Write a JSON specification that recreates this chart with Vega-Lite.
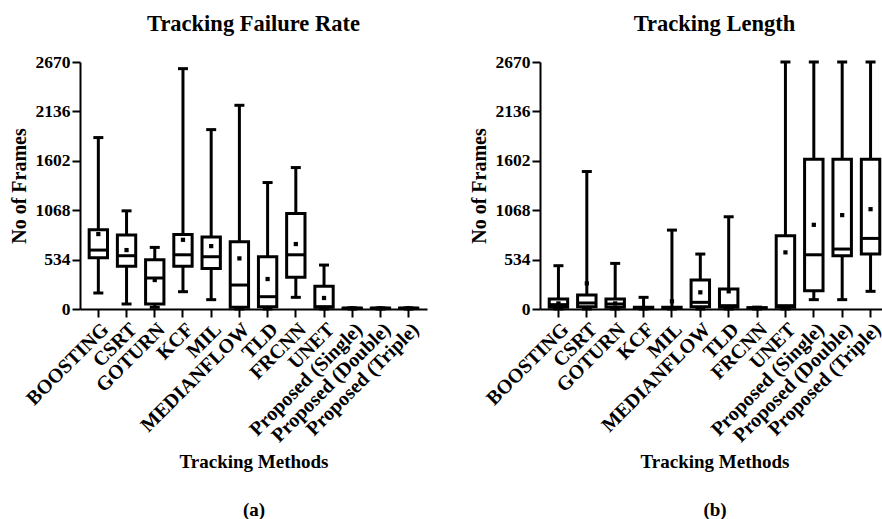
{
  "$schema": "https://vega.github.io/schema/vega-lite/v6.json",
  "padding": {"left": 9, "top": 12, "right": 0, "bottom": 0},
  "background": "white",
  "datasets": {
    "failure": [
      {"method": "BOOSTING", "lo": 173, "q1": 554, "med": 637, "q3": 856, "hi": 1853, "mean": 810},
      {"method": "CSRT", "lo": 54, "q1": 461, "med": 576, "q3": 799, "hi": 1061, "mean": 637},
      {"method": "GOTURN", "lo": 18, "q1": 54, "med": 335, "q3": 532, "hi": 666, "mean": 313},
      {"method": "KCF", "lo": 187, "q1": 461, "med": 586, "q3": 806, "hi": 2598, "mean": 748},
      {"method": "MIL", "lo": 101, "q1": 439, "med": 565, "q3": 777, "hi": 1939, "mean": 680},
      {"method": "MEDIANFLOW", "lo": 0, "q1": 18, "med": 259, "q3": 727, "hi": 2202, "mean": 547},
      {"method": "TLD", "lo": 0, "q1": 25, "med": 133, "q3": 565, "hi": 1367, "mean": 324},
      {"method": "FRCNN", "lo": 126, "q1": 342, "med": 586, "q3": 1033, "hi": 1529, "mean": 702},
      {"method": "UNET", "lo": 0, "q1": 18, "med": 25, "q3": 245, "hi": 475, "mean": 119},
      {"method": "Proposed (Single)", "lo": 0, "q1": 5, "med": 8, "q3": 10, "hi": 12, "mean": 8},
      {"method": "Proposed (Double)", "lo": 0, "q1": 5, "med": 8, "q3": 10, "hi": 12, "mean": 8},
      {"method": "Proposed (Triple)", "lo": 0, "q1": 5, "med": 8, "q3": 10, "hi": 12, "mean": 8}
    ],
    "length": [
      {"method": "BOOSTING", "lo": 0, "q1": 18, "med": 47, "q3": 108, "hi": 468, "mean": 60},
      {"method": "CSRT", "lo": 0, "q1": 25, "med": 65, "q3": 151, "hi": 1486, "mean": 277},
      {"method": "GOTURN", "lo": 0, "q1": 18, "med": 54, "q3": 108, "hi": 493, "mean": 60},
      {"method": "KCF", "lo": 0, "q1": 5, "med": 10, "q3": 20, "hi": 126, "mean": 10},
      {"method": "MIL", "lo": 0, "q1": 5, "med": 10, "q3": 20, "hi": 853, "mean": 83},
      {"method": "MEDIANFLOW", "lo": 0, "q1": 25, "med": 72, "q3": 313, "hi": 594, "mean": 180},
      {"method": "TLD", "lo": 0, "q1": 20, "med": 36, "q3": 216, "hi": 997, "mean": 191},
      {"method": "FRCNN", "lo": 0, "q1": 5, "med": 10, "q3": 15, "hi": 20, "mean": 10},
      {"method": "UNET", "lo": 0, "q1": 20, "med": 36, "q3": 792, "hi": 2670, "mean": 612},
      {"method": "Proposed (Single)", "lo": 101, "q1": 198, "med": 586, "q3": 1620, "hi": 2670, "mean": 910},
      {"method": "Proposed (Double)", "lo": 101, "q1": 576, "med": 648, "q3": 1620, "hi": 2670, "mean": 1015},
      {"method": "Proposed (Triple)", "lo": 191, "q1": 594, "med": 763, "q3": 1620, "hi": 2670, "mean": 1079}
    ]
  },
  "config": {
    "font": "Liberation Serif",
    "view": {"stroke": null},
    "axis": {
      "grid": false,
      "domainColor": "black",
      "domainWidth": 2,
      "tickColor": "black",
      "tickWidth": 2,
      "tickSize": 8,
      "labelColor": "black",
      "labelFont": "Liberation Serif",
      "labelFontWeight": "bold",
      "labelFontSize": 17.5,
      "labelPadding": 2,
      "labelLimit": 0,
      "titleFont": "Liberation Serif",
      "titleFontWeight": "bold",
      "titleFontSize": 20,
      "titleColor": "black"
    },
    "title": {"font": "Liberation Serif", "fontSize": 22.5, "fontWeight": "bold", "color": "black", "offset": 18},
    "concat": {"spacing": 42}
  },
  "hconcat": [
    {
      "width": 347,
      "height": 247,
      "title": "Tracking Failure Rate",
      "data": {"name": "failure"},
      "encoding": {
        "x": {"field": "method", "type": "nominal", "sort": null,
          "scale": {"paddingInner": 0.35, "paddingOuter": 0.325},
          "axis": {"labelAngle": -45, "labelFontSize": 20, "title": ["Tracking Methods", "(a)"], "titleFontSize": 19, "titleLineHeight": 48, "titlePadding": 7}}
      },
      "layer": [
        {"mark": {"type": "rule", "color": "black", "strokeWidth": 3},
         "encoding": {"y": {"field": "lo", "type": "quantitative", "title": "No of Frames",
            "scale": {"domain": [0, 2670], "nice": false},
            "axis": {"values": [0, 534, 1068, 1602, 2136, 2670], "format": "d", "titlePadding": 6}},
          "y2": {"field": "hi"}}},
        {"mark": {"type": "bar", "fill": "white", "stroke": "black", "strokeWidth": 3},
         "encoding": {"y": {"field": "q1", "type": "quantitative", "title": "No of Frames"}, "y2": {"field": "q3"}}},
        {"mark": {"type": "tick", "color": "black", "opacity": 1, "thickness": 3, "size": 18},
         "encoding": {"y": {"field": "med", "type": "quantitative", "title": "No of Frames"}}},
        {"mark": {"type": "tick", "color": "black", "opacity": 1, "thickness": 3, "size": 10},
         "encoding": {"y": {"field": "hi", "type": "quantitative", "title": "No of Frames"}}},
        {"mark": {"type": "tick", "color": "black", "opacity": 1, "thickness": 3, "size": 10},
         "encoding": {"y": {"field": "lo", "type": "quantitative", "title": "No of Frames"}}},
        {"mark": {"type": "point", "shape": "square", "filled": true, "color": "black", "opacity": 1, "size": 18},
         "encoding": {"y": {"field": "mean", "type": "quantitative", "title": "No of Frames"}}}
      ]
    },
    {
      "width": 349,
      "height": 247,
      "title": "Tracking Length",
      "data": {"name": "length"},
      "encoding": {
        "x": {"field": "method", "type": "nominal", "sort": null,
          "scale": {"paddingInner": 0.35, "paddingOuter": 0.325},
          "axis": {"labelAngle": -45, "labelFontSize": 20, "title": ["Tracking Methods", "(b)"], "titleFontSize": 19, "titleLineHeight": 48, "titlePadding": 7}}
      },
      "layer": [
        {"mark": {"type": "rule", "color": "black", "strokeWidth": 3},
         "encoding": {"y": {"field": "lo", "type": "quantitative", "title": "No of Frames",
            "scale": {"domain": [0, 2670], "nice": false},
            "axis": {"values": [0, 534, 1068, 1602, 2136, 2670], "format": "d", "titlePadding": 6}},
          "y2": {"field": "hi"}}},
        {"mark": {"type": "bar", "fill": "white", "stroke": "black", "strokeWidth": 3},
         "encoding": {"y": {"field": "q1", "type": "quantitative", "title": "No of Frames"}, "y2": {"field": "q3"}}},
        {"mark": {"type": "tick", "color": "black", "opacity": 1, "thickness": 3, "size": 18},
         "encoding": {"y": {"field": "med", "type": "quantitative", "title": "No of Frames"}}},
        {"mark": {"type": "tick", "color": "black", "opacity": 1, "thickness": 3, "size": 10},
         "encoding": {"y": {"field": "hi", "type": "quantitative", "title": "No of Frames"}}},
        {"mark": {"type": "tick", "color": "black", "opacity": 1, "thickness": 3, "size": 10},
         "encoding": {"y": {"field": "lo", "type": "quantitative", "title": "No of Frames"}}},
        {"mark": {"type": "point", "shape": "square", "filled": true, "color": "black", "opacity": 1, "size": 18},
         "encoding": {"y": {"field": "mean", "type": "quantitative", "title": "No of Frames"}}}
      ]
    }
  ]
}
